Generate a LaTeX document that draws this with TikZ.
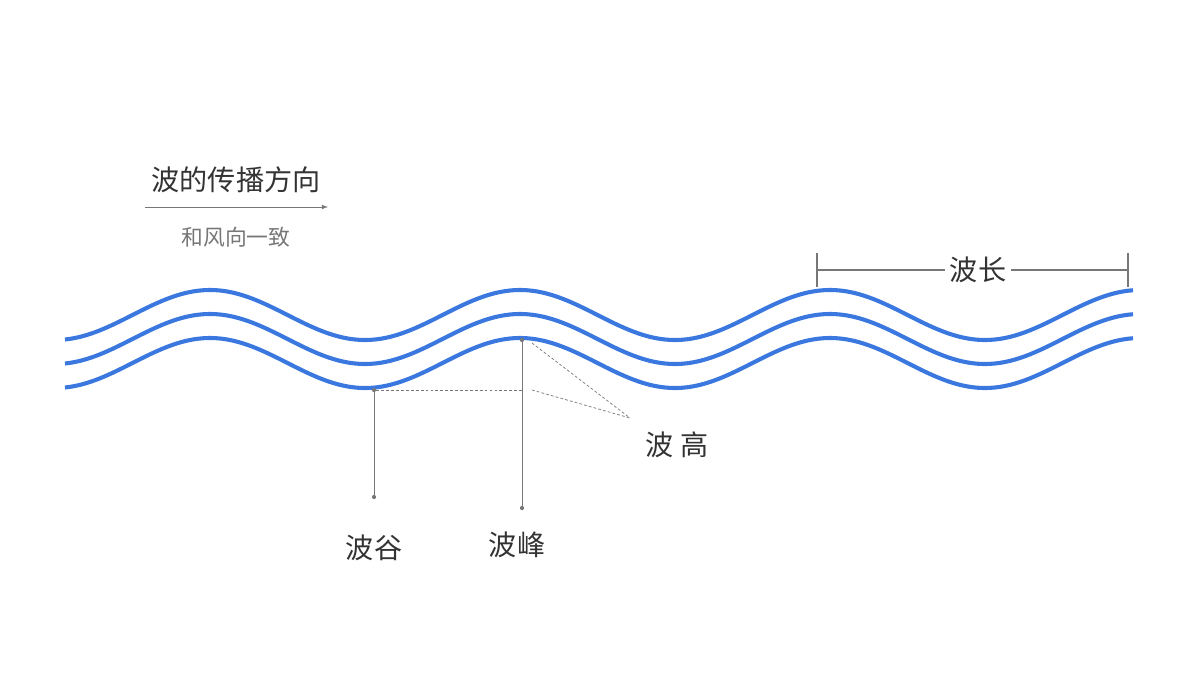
\documentclass[tikz,border=0pt]{standalone}
\usepackage{fontspec}
\setmainfont{Noto Sans CJK SC}
\usetikzlibrary{positioning}
\definecolor{waveblue}{HTML}{3A78E0}
\definecolor{darktext}{HTML}{333333}
\definecolor{marker}{HTML}{777777}

\tikzset{
  wave/.style={waveblue, line width=2.9pt},
  label/.style={text=darktext, font=\fontsize{20}{24}\selectfont},
  guide/.style={marker, line width=0.5pt},
  hint/.style={marker, line width=0.5pt, dash pattern=on 2pt off 1.5pt},
  dot/.style={circle, fill=marker, inner sep=0pt, minimum size=3pt}
}

\begin{document}
\begin{tikzpicture}[x=0.025cm, y=-0.025cm]

% frame
\useasboundingbox (0,0) rectangle (1200,675);

% waves

\foreach \c in {315,339,363}
  \draw[wave, samples=200, domain=65:1133, smooth]
    plot (\x, {\c - 25*cos(1.16129*(\x-210))});

% direction

\node[label] (dir) at (236,180) {波的传播方向};
\coordinate (a0) at (145,207);
\coordinate (a1) at (328,207);
\draw[guide, -latex] (a0) -- (a1);
\node[text=marker, font=\fontsize{15.5}{18}\selectfont] (wind) at (236,237) {和风向一致};

% wavelength

\node[label] (len) at (978,270) {波长};
\coordinate (l0) at (817,270);
\coordinate (l1) at (1128,270);
\draw[guide, line width=0.8pt] (l0) -- (len.west);
\draw[guide, line width=0.8pt] (len.east) -- (l1);
\draw[guide, line width=0.8pt] ([yshift=-12]l0) -- ([yshift=12]l0);
\draw[guide, line width=0.8pt] ([yshift=-12]l1) -- ([yshift=12]l1);

% trough and crest

\node[dot] (t0) at (374,390) {};
\node[dot] (t1) at (374,497) {};
\node[dot] (c0) at (522,340) {};
\node[dot] (c1) at (522,508) {};
\coordinate (h0) at (532,343);
\coordinate (h1) at (532,390);
\coordinate (h2) at (630,418);

\draw[guide] (t0) -- (t1);
\draw[guide] (c0) -- (c1);
\draw[hint] (t0) -- (522,390);
\draw[hint] (h0) -- (h2);
\draw[hint] (h1) -- (h2);

\node[label] (trough) at (374,548) {波谷};
\node[label] (crest) at (517,545) {波峰};
\node[label] (height) at (677,445) {波 高};

\end{tikzpicture}
\end{document}
